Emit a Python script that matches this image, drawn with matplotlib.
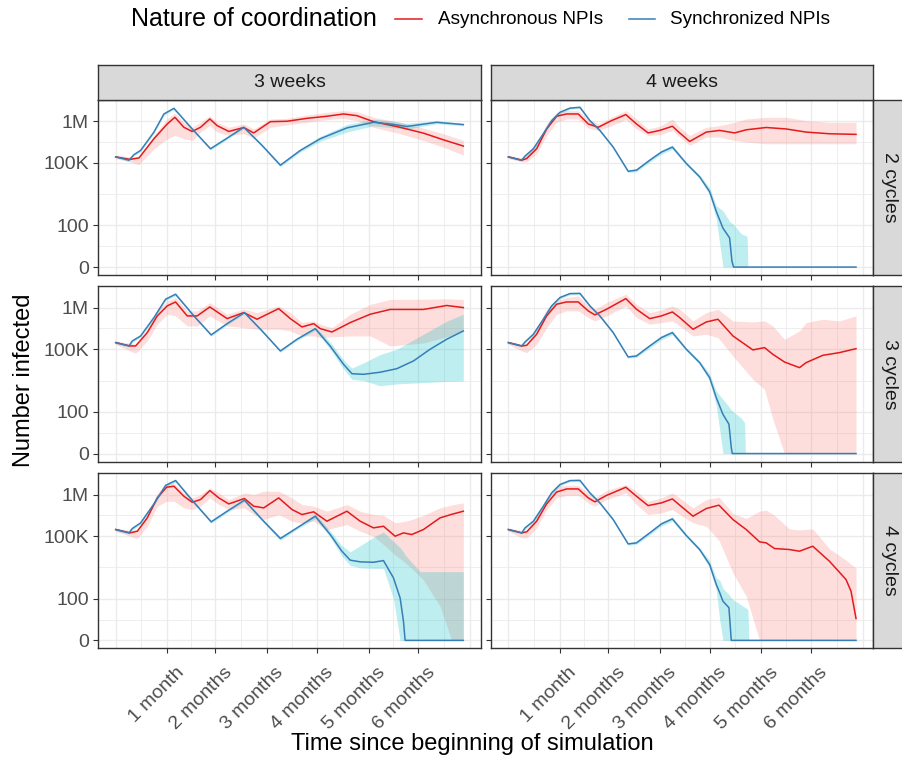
import numpy as np
import matplotlib
matplotlib.use("Agg")
import matplotlib.pyplot as plt
from matplotlib.lines import Line2D
from matplotlib.transforms import ScaledTranslation

plt.rcParams['font.family'] = ['Liberation Sans', 'DejaVu Sans']

# values as log10(1 + number infected)
# x is days since the start of the simulation

# ---- 3 weeks / 2 cycles ----
days_sync_3w_2c = [0, 8, 11, 15, 23, 29, 35, 46, 57, 67, 77, 88, 99, 111, 123, 139, 155, 165, 175, 193, 209]
log_sync_3w_2c = [5.29, 5.13, 5.40, 5.60, 6.48, 7.35, 7.62, 6.63, 5.68, 6.19, 6.71, 5.84, 4.89, 5.60, 6.16, 6.68, 6.95, 6.87, 6.75, 6.95, 6.84]
lo_sync_3w_2c = [5.24, 5.08, 5.34, 5.54, 6.42, 7.29, 7.56, 6.57, 5.62, 6.13, 6.65, 5.78, 4.82, 5.52, 6.04, 6.48, 6.78, 6.70, 6.62, 6.88, 6.78]
hi_sync_3w_2c = [5.34, 5.18, 5.46, 5.66, 6.54, 7.41, 7.68, 6.69, 5.74, 6.25, 6.77, 5.90, 4.96, 5.68, 6.28, 6.84, 7.10, 7.02, 6.90, 7.02, 6.90]
days_async_3w_2c = [0, 8.6, 14, 23, 31, 35.6, 41, 46, 51, 56.6, 61, 68, 77, 83, 93, 103, 115, 127, 137, 145, 155, 171, 185, 197, 209]
log_async_3w_2c = [5.29, 5.17, 5.24, 6.16, 6.87, 7.19, 6.71, 6.51, 6.71, 7.11, 6.79, 6.51, 6.70, 6.44, 6.98, 7.00, 7.14, 7.24, 7.35, 7.27, 6.98, 6.71, 6.43, 6.11, 5.81]
lo_async_3w_2c = [5.21, 5.05, 4.92, 5.68, 6.16, 6.32, 6.16, 6.08, 6.48, 6.79, 6.48, 6.32, 6.40, 6.19, 6.71, 6.83, 6.95, 7.08, 7.14, 7.03, 6.71, 6.40, 6.08, 5.76, 5.37]
hi_async_3w_2c = [5.37, 5.29, 5.29, 6.32, 7.11, 7.40, 6.95, 6.71, 6.95, 7.27, 6.95, 6.71, 6.87, 6.63, 7.11, 7.14, 7.30, 7.43, 7.51, 7.46, 7.19, 6.95, 6.67, 6.40, 6.08]

# ---- 4 weeks / 2 cycles ----
days_sync_4w_2c = [0, 8, 10, 15, 21, 26, 31, 37, 43, 49, 55, 63, 72, 77, 85, 92, 98.6, 107, 115, 121, 125, 129, 133, 134.4, 135.4, 140, 143.5, 144, 209]
log_sync_4w_2c = [5.29, 5.13, 5.33, 5.68, 6.40, 7.03, 7.43, 7.63, 7.67, 7.03, 6.56, 5.76, 4.60, 4.65, 5.13, 5.52, 5.76, 4.97, 4.33, 3.62, 2.67, 1.87, 1.40, 0.29, 0, 0, 0, 0, 0]
lo_sync_4w_2c = [5.24, 5.08, 5.27, 5.60, 6.32, 6.95, 7.36, 7.57, 7.61, 6.97, 6.50, 5.70, 4.54, 4.58, 5.04, 5.42, 5.66, 4.90, 4.25, 3.45, 2.30, 0, 0, 0, 0, 0, 0, 0, 0]
hi_sync_4w_2c = [5.34, 5.18, 5.39, 5.76, 6.48, 7.11, 7.50, 7.69, 7.73, 7.09, 6.62, 5.82, 4.66, 4.74, 5.22, 5.62, 5.86, 5.04, 4.42, 3.80, 2.95, 2.70, 2.20, 2.10, 2.05, 1.60, 1.48, 0, 0]
days_async_4w_2c = [0, 8, 11, 17, 23, 29, 35, 42, 48, 54, 62, 70.6, 77, 84, 91, 98.6, 103, 109, 119, 127, 136, 143, 155, 167, 179, 193, 209]
log_async_4w_2c = [5.29, 5.13, 5.21, 5.68, 6.63, 7.24, 7.35, 7.35, 6.87, 6.71, 7.03, 7.32, 6.87, 6.44, 6.56, 6.76, 6.44, 6.03, 6.48, 6.56, 6.44, 6.59, 6.70, 6.63, 6.48, 6.40, 6.37]
lo_async_4w_2c = [5.21, 5.05, 5.05, 5.44, 6.32, 6.95, 7.11, 7.11, 6.67, 6.56, 6.79, 7.08, 6.63, 6.32, 6.35, 6.56, 6.24, 5.84, 6.24, 6.24, 6.08, 6.00, 5.92, 5.92, 5.92, 5.92, 5.92]
hi_async_4w_2c = [5.37, 5.24, 5.37, 5.92, 6.87, 7.43, 7.51, 7.51, 7.11, 6.87, 7.19, 7.51, 7.11, 6.63, 6.76, 7.11, 6.71, 6.32, 6.71, 6.79, 6.95, 7.11, 7.19, 7.19, 7.03, 6.95, 6.95]

# ---- 3 weeks / 3 cycles ----
days_sync_3w_3c = [0, 8, 10, 15, 23, 30, 36, 47, 57.4, 67, 77.4, 88, 99, 109, 120, 129, 137, 142, 149, 159, 169, 179, 189, 199, 209]
log_sync_3w_3c = [5.32, 5.16, 5.40, 5.64, 6.52, 7.40, 7.64, 6.60, 5.69, 6.23, 6.76, 5.88, 4.92, 5.48, 5.99, 5.15, 4.28, 3.83, 3.80, 3.90, 4.07, 4.44, 5.00, 5.48, 5.88]
lo_sync_3w_3c = [5.26, 5.10, 5.34, 5.58, 6.45, 7.33, 7.57, 6.54, 5.63, 6.17, 6.70, 5.82, 4.86, 5.42, 5.90, 5.00, 4.05, 3.56, 3.50, 3.25, 3.34, 3.38, 3.42, 3.46, 3.48]
hi_sync_3w_3c = [5.38, 5.22, 5.46, 5.70, 6.58, 7.47, 7.71, 6.66, 5.75, 6.29, 6.82, 5.94, 4.98, 5.54, 6.08, 5.35, 4.50, 4.10, 4.35, 4.75, 5.00, 5.45, 5.90, 6.35, 6.68]
days_async_3w_3c = [0, 8.6, 12, 19, 25, 31, 36, 43, 49, 56.6, 67, 77, 85, 98, 105, 112, 119, 123, 130, 141, 153, 165, 185, 199, 209]
log_async_3w_3c = [5.32, 5.16, 5.16, 5.80, 6.60, 7.08, 7.27, 6.60, 6.60, 7.03, 6.47, 6.76, 6.44, 6.95, 6.47, 6.07, 6.23, 5.99, 5.83, 6.28, 6.68, 6.91, 6.91, 7.10, 7.00]
lo_async_3w_3c = [5.24, 4.92, 4.81, 5.40, 6.20, 6.68, 6.60, 6.12, 6.12, 6.60, 6.12, 6.04, 5.96, 5.96, 5.88, 5.64, 5.64, 5.56, 5.60, 5.64, 5.64, 5.16, 5.30, 5.60, 5.85]
hi_async_3w_3c = [5.40, 5.29, 5.24, 5.96, 6.84, 7.32, 7.48, 6.84, 6.84, 7.24, 6.68, 6.92, 6.76, 7.08, 6.76, 6.28, 6.36, 6.20, 6.04, 6.68, 7.15, 7.39, 7.40, 7.42, 7.39]

# ---- 4 weeks / 3 cycles ----
days_sync_4w_3c = [0, 8, 10, 15, 21, 26, 31, 37, 43, 49, 55, 63, 72, 77, 85, 92, 98.6, 107, 115, 121, 125, 129, 132.6, 134, 134.6, 140, 142, 142.5, 209]
log_sync_4w_3c = [5.32, 5.16, 5.35, 5.72, 6.44, 7.08, 7.48, 7.67, 7.68, 7.08, 6.60, 5.80, 4.63, 4.68, 5.16, 5.56, 5.80, 5.00, 4.36, 3.64, 2.68, 1.88, 1.41, 0.29, 0, 0, 0, 0, 0]
lo_sync_4w_3c = [5.27, 5.11, 5.29, 5.64, 6.36, 7.00, 7.41, 7.61, 7.62, 7.02, 6.54, 5.74, 4.57, 4.61, 5.07, 5.46, 5.70, 4.93, 4.28, 3.48, 2.30, 0, 0, 0, 0, 0, 0, 0, 0]
hi_sync_4w_3c = [5.37, 5.21, 5.41, 5.80, 6.52, 7.16, 7.55, 7.73, 7.74, 7.14, 6.66, 5.86, 4.69, 4.77, 5.25, 5.66, 5.90, 5.07, 4.45, 3.82, 3.00, 2.60, 2.25, 2.10, 2.05, 1.70, 1.49, 0, 0]
days_async_4w_3c = [0, 8, 11, 17, 23, 29, 35, 42, 48, 52, 59, 70.6, 77, 85, 92, 98.6, 103, 111, 119, 126, 135, 147, 154, 159, 166, 175, 179, 189, 199, 209]
log_async_4w_3c = [5.32, 5.16, 5.19, 5.72, 6.60, 7.16, 7.27, 7.27, 6.84, 6.65, 6.92, 7.43, 6.92, 6.47, 6.60, 6.79, 6.52, 5.96, 6.31, 6.44, 5.64, 4.97, 5.08, 4.76, 4.39, 4.12, 4.36, 4.71, 4.84, 5.03]
lo_async_4w_3c = [5.24, 4.92, 4.84, 5.24, 6.04, 6.68, 6.84, 6.84, 6.52, 6.36, 6.60, 7.08, 6.52, 6.20, 6.28, 6.36, 6.12, 5.64, 5.72, 5.56, 4.68, 3.56, 3.08, 1.65, 0, 0, 0, 0, 0, 0]
hi_async_4w_3c = [5.40, 5.24, 5.24, 5.96, 6.92, 7.32, 7.48, 7.56, 7.08, 6.92, 7.24, 7.64, 7.16, 6.76, 6.89, 7.08, 6.92, 6.36, 6.76, 6.92, 6.36, 6.31, 6.36, 6.12, 5.48, 5.88, 6.28, 6.44, 6.36, 6.60]

# ---- 3 weeks / 4 cycles ----
days_sync_3w_4c = [0, 8, 10, 15, 23, 30, 36, 47, 57.4, 67, 77.4, 88, 99, 109, 120, 129, 136, 141, 147, 155, 161, 167, 171, 173, 174, 183, 209]
log_sync_3w_4c = [5.32, 5.16, 5.37, 5.64, 6.55, 7.44, 7.67, 6.63, 5.69, 6.20, 6.73, 5.80, 4.89, 5.40, 5.96, 5.08, 4.28, 3.85, 3.77, 3.75, 3.83, 3.00, 2.04, 0.93, 0, 0, 0]
lo_sync_3w_4c = [5.26, 5.10, 5.31, 5.58, 6.48, 7.37, 7.60, 6.56, 5.62, 6.13, 6.66, 5.73, 4.80, 5.33, 5.85, 4.95, 4.05, 3.60, 3.48, 3.45, 3.45, 2.00, 0, 0, 0, 0, 0]
hi_sync_3w_4c = [5.38, 5.22, 5.43, 5.70, 6.62, 7.51, 7.74, 6.70, 5.76, 6.27, 6.80, 5.87, 4.98, 5.47, 6.08, 5.25, 4.55, 4.25, 4.55, 4.95, 5.20, 4.75, 4.45, 4.25, 4.10, 3.30, 3.30]
days_async_3w_4c = [0, 8.6, 13, 19, 25, 30.6, 35, 41, 46, 51, 56.6, 62, 68, 77.4, 83, 89, 98, 106, 112, 119, 127, 139, 147, 155, 161, 168, 173, 178, 185, 195, 202, 209]
log_async_3w_4c = [5.32, 5.16, 5.24, 5.88, 6.84, 7.35, 7.40, 6.92, 6.63, 6.76, 7.19, 6.84, 6.55, 6.81, 6.44, 6.36, 6.84, 6.28, 6.04, 6.17, 5.72, 6.20, 5.72, 5.40, 5.48, 5.00, 5.16, 5.08, 5.32, 5.88, 6.05, 6.20]
lo_async_3w_4c = [5.24, 5.00, 4.89, 5.48, 6.44, 6.68, 6.68, 6.36, 6.28, 6.44, 6.84, 6.52, 6.28, 6.36, 6.04, 5.80, 6.04, 5.72, 5.64, 5.72, 5.32, 5.56, 5.24, 5.00, 4.60, 4.10, 3.80, 3.45, 2.90, 1.64, 0, 0]
hi_async_3w_4c = [5.40, 5.27, 5.32, 6.04, 7.08, 7.48, 7.56, 7.08, 6.84, 7.00, 7.32, 7.08, 6.76, 7.08, 7.00, 7.16, 7.16, 6.84, 6.52, 6.44, 6.20, 6.52, 6.20, 6.04, 6.00, 5.65, 5.70, 5.80, 6.00, 6.36, 6.50, 6.60]

# ---- 4 weeks / 4 cycles ----
days_sync_4w_4c = [0, 8, 10, 15, 21, 26, 31, 37, 43, 49, 55, 63, 72, 77, 85, 92, 98.6, 107, 115, 121, 125, 127, 129, 132.6, 134, 135, 144, 144.6, 209]
log_sync_4w_4c = [5.32, 5.16, 5.40, 5.72, 6.44, 7.08, 7.48, 7.67, 7.68, 7.08, 6.60, 5.80, 4.63, 4.68, 5.16, 5.59, 5.83, 5.03, 4.36, 3.64, 2.68, 2.30, 1.88, 1.57, 0, 0, 0, 0, 0]
lo_sync_4w_4c = [5.27, 5.11, 5.34, 5.64, 6.36, 7.00, 7.41, 7.61, 7.62, 7.02, 6.54, 5.74, 4.57, 4.61, 5.07, 5.49, 5.73, 4.96, 4.28, 3.48, 2.40, 1.00, 0, 0, 0, 0, 0, 0, 0]
hi_sync_4w_4c = [5.37, 5.21, 5.46, 5.80, 6.52, 7.16, 7.55, 7.73, 7.74, 7.14, 6.66, 5.86, 4.69, 4.77, 5.25, 5.69, 5.93, 5.10, 4.45, 3.82, 3.00, 2.90, 2.50, 2.20, 2.05, 1.96, 1.49, 0, 0]
days_async_4w_4c = [0, 8, 11, 17, 23, 29, 35, 42, 48, 52, 59, 70.6, 77, 84, 92, 98.6, 103, 111, 119, 126.6, 135, 143, 151, 155, 160, 169, 175, 183, 193, 203, 206, 209]
log_async_4w_4c = [5.32, 5.16, 5.21, 5.72, 6.55, 7.12, 7.27, 7.27, 6.84, 6.65, 6.96, 7.35, 6.92, 6.47, 6.60, 6.79, 6.49, 5.96, 6.33, 6.49, 5.80, 5.32, 4.73, 4.68, 4.41, 4.36, 4.28, 4.52, 3.80, 2.92, 2.36, 1.05]
lo_async_4w_4c = [5.24, 4.92, 4.92, 5.40, 6.28, 6.84, 6.96, 6.96, 6.60, 6.44, 6.76, 7.08, 6.52, 6.04, 6.12, 6.28, 6.04, 5.64, 5.48, 4.80, 3.24, 2.12, 0, 0, 0, 0, 0, 0, 0, 0, 0, 0]
hi_async_4w_4c = [5.40, 5.27, 5.27, 5.96, 6.84, 7.40, 7.44, 7.44, 7.08, 6.84, 7.19, 7.48, 7.16, 6.68, 6.84, 7.08, 6.84, 6.36, 6.76, 6.88, 6.10, 5.85, 6.20, 6.25, 6.00, 5.35, 5.30, 5.35, 4.40, 3.85, 3.65, 3.48]

col_labels = ["3 weeks", "4 weeks"]
row_labels = ["2 cycles", "3 cycles", "4 cycles"]
x_tick_days = [31, 60, 91, 121, 152, 182]
x_tick_labels = ["1 month", "2 months", "3 months", "4 months", "5 months", "6 months"]
x_grid_days = [0, 31, 60, 91, 121, 152, 182, 213]
y_tick_values = [0, 1e2, 1e5, 1e7]
y_tick_labels = ["0", "100", "100K", "1M"]

panels = [
    [(days_async_3w_2c, log_async_3w_2c, lo_async_3w_2c, hi_async_3w_2c, days_sync_3w_2c, log_sync_3w_2c, lo_sync_3w_2c, hi_sync_3w_2c),
     (days_async_4w_2c, log_async_4w_2c, lo_async_4w_2c, hi_async_4w_2c, days_sync_4w_2c, log_sync_4w_2c, lo_sync_4w_2c, hi_sync_4w_2c)],
    [(days_async_3w_3c, log_async_3w_3c, lo_async_3w_3c, hi_async_3w_3c, days_sync_3w_3c, log_sync_3w_3c, lo_sync_3w_3c, hi_sync_3w_3c),
     (days_async_4w_3c, log_async_4w_3c, lo_async_4w_3c, hi_async_4w_3c, days_sync_4w_3c, log_sync_4w_3c, lo_sync_4w_3c, hi_sync_4w_3c)],
    [(days_async_3w_4c, log_async_3w_4c, lo_async_3w_4c, hi_async_3w_4c, days_sync_3w_4c, log_sync_3w_4c, lo_sync_3w_4c, hi_sync_3w_4c),
     (days_async_4w_4c, log_async_4w_4c, lo_async_4w_4c, hi_async_4w_4c, days_sync_4w_4c, log_sync_4w_4c, lo_sync_4w_4c, hi_sync_4w_4c)],
]

RED = "#E41A1C"
BLUE = "#377EB8"
RED_FILL = "#F8766D"
BLUE_FILL = "#00BFC4"
BORDER = "#333333"
GRID = "#EBEBEB"


def count(logs):
    return 10 ** np.asarray(logs, dtype=float) - 1


def fwd(x):
    return np.log10(np.clip(x, -0.999, None) + 1)


def inv(u):
    return 10 ** np.asarray(u, dtype=float) - 1


W, H = 902, 759
fig = plt.figure(figsize=(W / 100, H / 100), dpi=100)


def px_box(x0, y0, x1, y1):
    # pixel box (top-left origin) -> figure fraction rect
    return [x0 / W, 1 - y1 / H, (x1 - x0) / W, (y1 - y0) / H]


col_x = [(98.3, 480.7), (491.0, 873.4)]
row_y = [(100.0, 275.0), (286.3, 461.5), (473.3, 648.3)]

for r in range(3):
    for c in range(2):
        ax = fig.add_axes(px_box(col_x[c][0], row_y[r][0], col_x[c][1], row_y[r][1]))
        ax.set_yscale('function', functions=(fwd, inv))
        ax.set_xlim(-10.45, 219.45)
        ax.set_ylim(inv(-0.38), inv(8.02))

        # grid
        for i, d in enumerate(x_grid_days):
            ax.axvline(d, color=GRID, lw=1.0, zorder=0)
            if i < len(x_grid_days) - 1:
                ax.axvline((d + x_grid_days[i + 1]) / 2, color=GRID, lw=0.6, zorder=0)
        for v in y_tick_values:
            ax.axhline(v, color=GRID, lw=1.0, zorder=0)
        uv = fwd(np.array(y_tick_values))
        for u in (uv[:-1] + uv[1:]) / 2:
            ax.axhline(inv(u), color=GRID, lw=0.6, zorder=0)

        da, la, loa, hia, ds, ls, los, his = panels[r][c]
        ax.fill_between(da, count(loa), count(hia), color=RED_FILL, alpha=0.24, lw=0, zorder=1)
        ax.fill_between(ds, count(los), count(his), color=BLUE_FILL, alpha=0.25, lw=0, zorder=1)
        ax.plot(da, count(la), color=RED, lw=1.1, zorder=2)
        ax.plot(ds, count(ls), color=BLUE, lw=1.1, zorder=3)

        ax.set_xticks(x_tick_days)
        ax.set_yticks(y_tick_values)
        ax.minorticks_off()
        ax.tick_params(length=3.8, width=0.8, color=BORDER, labelcolor="#4D4D4D", labelsize=14, pad=3)
        if c == 0:
            ax.set_yticklabels(y_tick_labels)
        else:
            ax.set_yticklabels([])
        if r == 2:
            ax.set_xticklabels(x_tick_labels, rotation=45, ha='right', va='top', rotation_mode='anchor')
            for lab in ax.get_xticklabels():
                lab.set_transform(lab.get_transform() + ScaledTranslation(8 / 100, -6 / 100, fig.dpi_scale_trans))
        else:
            ax.set_xticklabels([])
        for s in ax.spines.values():
            s.set_color(BORDER)
            s.set_linewidth(1.0)

        # row strip on the right
        if c == 1:
            sax = fig.add_axes(px_box(873.4, row_y[r][0], 909.0, row_y[r][1]))
            sax.set_facecolor("#D9D9D9")
            sax.set_xticks([])
            sax.set_yticks([])
            for s in sax.spines.values():
                s.set_color(BORDER)
                s.set_linewidth(1.0)
            sax.text(0.44, 0.5, row_labels[r], rotation=-90, ha='center', va='center',
                     fontsize=14, color="#1A1A1A", transform=sax.transAxes)

    # column strips on top
for c in range(2):
    sax = fig.add_axes(px_box(col_x[c][0], 64.5, col_x[c][1], 100.0))
    sax.set_facecolor("#D9D9D9")
    sax.set_xticks([])
    sax.set_yticks([])
    for s in sax.spines.values():
        s.set_color(BORDER)
        s.set_linewidth(1.0)
    sax.text(0.5, 0.5, col_labels[c], ha='center', va='center', fontsize=14,
             color="#1A1A1A", transform=sax.transAxes)

# axis titles
fig.text(24 / W, 1 - 380 / H, "Number infected", rotation=90, ha='center', va='center', fontsize=17)
fig.text(472 / W, 1 - 744 / H, "Time since beginning of simulation", ha='center', va='center', fontsize=17)

# legend
ly = 1 - 19 / H
fig.text(131 / W, ly, "Nature of coordination", ha='left', va='center', fontsize=18)
fig.add_artist(Line2D([395 / W, 422 / W], [ly, ly], color=RED, lw=1.1))
fig.text(438 / W, ly, "Asynchronous NPIs", ha='left', va='center', fontsize=13.6)
fig.add_artist(Line2D([629 / W, 655 / W], [ly, ly], color=BLUE, lw=1.1))
fig.text(670 / W, ly, "Synchronized NPIs", ha='left', va='center', fontsize=13.6)

fig.savefig("out.png", dpi=100, facecolor="white")
